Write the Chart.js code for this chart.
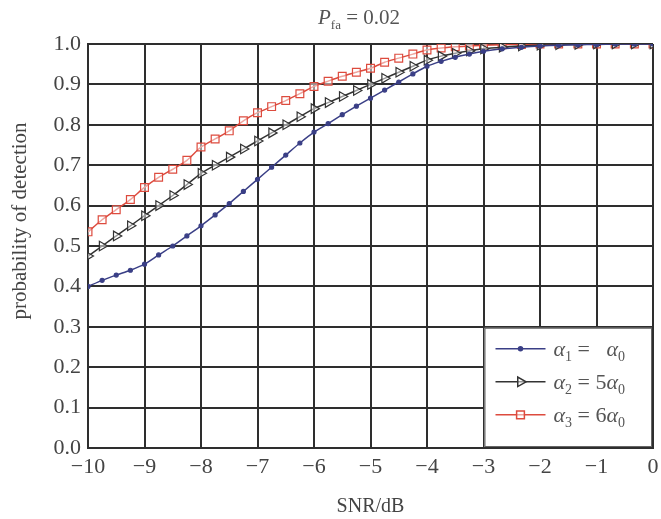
<!DOCTYPE html>
<html>
<head>
<meta charset="utf-8">
<script src="https://cdn.jsdelivr.net/npm/chart.js@4.4.0/dist/chart.umd.min.js"></script>
<style>
  body { margin: 0; background: #fff; }
  canvas { display: block; }
</style>
</head>
<body>
<canvas id="pd" width="661" height="519"></canvas>
<script>
// SNR points (dB)
const snr = [-10, -9.75, -9.5, -9.25, -9, -8.75, -8.5, -8.25, -8, -7.75, -7.5, -7.25, -7,
    -6.75, -6.5, -6.25, -6, -5.75, -5.5, -5.25, -5, -4.75, -4.5, -4.25, -4, -3.75, -3.5, -3.25, -3,
    -2.67, -2.33, -2, -1.67, -1.33, -1, -0.67, -0.33, 0]

// alpha1 = alpha0
const pd1 = [0.400, 0.415, 0.428, 0.440, 0.455, 0.478, 0.500, 0.525, 0.550, 0.577, 0.605, 0.635, 0.665,
    0.695, 0.725, 0.755, 0.782, 0.803, 0.825, 0.846, 0.866, 0.886, 0.906, 0.926, 0.945, 0.957, 0.967, 0.975, 0.982,
    0.988, 0.992, 0.995, 0.997, 0.998, 0.999, 1.0, 1.0, 1.0]
// alpha2 = 5 alpha0
const pd2 = [0.475, 0.500, 0.525, 0.550, 0.575, 0.600, 0.625, 0.652, 0.680, 0.700, 0.720, 0.740, 0.760,
    0.780, 0.800, 0.820, 0.840, 0.855, 0.870, 0.885, 0.900, 0.915, 0.930, 0.945, 0.960, 0.970, 0.977, 0.983, 0.988,
    0.992, 0.995, 0.997, 0.998, 0.999, 1.0, 1.0, 1.0, 1.0]
// alpha3 = 6 alpha0
const pd3 = [0.535, 0.565, 0.590, 0.615, 0.645, 0.670, 0.690, 0.712, 0.745, 0.765, 0.785, 0.810, 0.830,
    0.845, 0.860, 0.877, 0.895, 0.908, 0.920, 0.930, 0.940, 0.955, 0.965, 0.975, 0.985, 0.990, 0.993, 0.995, 0.997,
    0.998, 0.999, 1.0, 1.0, 1.0, 1.0, 1.0, 1.0, 1.0]

const xTicks = [-10, -9, -8, -7, -6, -5, -4, -3, -2, -1, 0]

const SERIF = '"Liberation Serif", "DejaVu Serif", serif'
const GRID = '#2e2e2e'

function pts(ys) {
    return snr.map((x, i) => ({ x: x, y: ys[i] }))
}

let series = [
    { label: 'a1', data: pts(pd1), borderColor: '#3a3f86', pointStyle: 'circle', pointRadius: 2,
      pointBackgroundColor: '#3a3f86', pointRotation: 0,
      legend: [['α', 'it'], ['1', 'sub'], [' =   '], ['α', 'it'], ['0', 'sub']] },
    { label: 'a2', data: pts(pd2), borderColor: '#333333', pointStyle: 'triangle', pointRadius: 5.5,
      pointBackgroundColor: 'rgba(255,255,255,0.5)', pointRotation: 90,
      legend: [['α', 'it'], ['2', 'sub'], [' = 5'], ['α', 'it'], ['0', 'sub']] },
    { label: 'a3', data: pts(pd3), borderColor: '#dd4b3e', pointStyle: 'rect', pointRadius: 5.5,
      pointBackgroundColor: 'rgba(255,255,255,0.5)', pointRotation: 0,
      legend: [['α', 'it'], ['3', 'sub'], [' = 6'], ['α', 'it'], ['0', 'sub']] }
]

// draws pieces of text: normal, italic, subscript
function drawRich(ctx, parts, x, y, size) {
    ctx.textBaseline = 'alphabetic'
    ctx.textAlign = 'left'
    parts.forEach(p => {
        let kind = p[1]
        if (kind === 'sub') {
            ctx.font = Math.round(size * 0.62) + 'px ' + SERIF
            ctx.fillText(p[0], x, y + size * 0.22)
        } else {
            ctx.font = (kind === 'it' ? 'italic ' : '') + size + 'px ' + SERIF
            ctx.fillText(p[0], x, y)
        }
        x += ctx.measureText(p[0]).width
    })
    return x
}

const extras = {
    id: 'extras',
    afterDatasetsDraw(chart) {
        const ctx = chart.ctx
        const xs = chart.scales.x, ys = chart.scales.y
        // title
        ctx.save()
        ctx.fillStyle = '#555'
        drawRich(ctx, [['P', 'it'], ['fa', 'sub'], [' = 0.02']], 318, 24, 21)
        ctx.restore()

        // y axis title (sits a bit above the plot centre in the original)
        ctx.save()
        ctx.translate(20, 221)
        ctx.rotate(-Math.PI / 2)
        ctx.fillStyle = '#444'
        ctx.font = '21px ' + SERIF
        ctx.textAlign = 'center'
        ctx.textBaseline = 'middle'
        ctx.fillText('probability of detection', 0, 0)
        ctx.restore()

        // legend box in lower right
        let l = xs.getPixelForValue(-3), r = xs.getPixelForValue(0)
        let t = ys.getPixelForValue(0.3), b = ys.getPixelForValue(0)
        ctx.save()
        ctx.fillStyle = '#fff'
        ctx.fillRect(l + 1, t + 1, r - l - 2, b - t - 2)
        ctx.strokeStyle = '#666'
        ctx.lineWidth = 1
        ctx.strokeRect(l + 1.5, t + 1.5, r - l - 3, b - t - 3)
        chart.data.datasets.forEach((ds, i) => {
            let yy = t + 22 + i * 33
            ctx.strokeStyle = ds.borderColor
            ctx.lineWidth = 1.5
            ctx.beginPath()
            ctx.moveTo(l + 12, yy)
            ctx.lineTo(l + 62, yy)
            ctx.stroke()
            ctx.fillStyle = ds.pointBackgroundColor
            Chart.helpers.drawPoint(ctx, {
                pointStyle: ds.pointStyle, rotation: ds.pointRotation,
                radius: ds.pointStyle === 'circle' ? 2 : 5.5, borderWidth: 1.5
            }, l + 37, yy)
            ctx.fillStyle = '#555'
            drawRich(ctx, series[i].legend, l + 70, yy + 7, 22)
        })
        ctx.restore()
    }
}

new Chart(document.getElementById('pd'), {
    type: 'line',
    data: {
        datasets: series.map(s => ({
            label: s.label,
            data: s.data,
            borderColor: s.borderColor,
            borderWidth: 1.5,
            pointStyle: s.pointStyle,
            pointRadius: s.pointRadius,
            pointRotation: s.pointRotation,
            pointBorderColor: s.borderColor,
            pointBackgroundColor: s.pointBackgroundColor,
            pointBorderWidth: 1.2,
            tension: 0.2,
            fill: false
        }))
    },
    options: {
        responsive: false,
        animation: false,
        layout: { padding: { left: 0, right: 8, top: 44, bottom: 0 } },
        plugins: { legend: { display: false }, tooltip: { enabled: false }, title: { display: false } },
        scales: {
            x: {
                type: 'linear', min: -10, max: 0,
                afterBuildTicks: sc => { sc.ticks = xTicks.map(v => ({ value: v })) },
                afterFit: sc => { sc.height = 71; sc.paddingRight = 0; sc.paddingLeft = 0 },
                grid: { color: GRID, lineWidth: 2, drawTicks: false },
                border: { color: GRID, width: 2 },
                ticks: {
                    padding: 6, color: '#444', font: { family: SERIF, size: 22 },
                    callback: v => v < 0 ? '\u2212' + Math.abs(v) : '' + v
                },
                title: { display: true, text: 'SNR/dB', color: '#444', padding: { top: 4, bottom: 0 },
                    font: { family: SERIF, size: 20 } }
            },
            y: {
                min: 0, max: 1,
                afterFit: sc => { sc.width = 88 },
                grid: { color: GRID, lineWidth: 2, drawTicks: false },
                border: { color: GRID, width: 2 },
                ticks: {
                    stepSize: 0.1, padding: 7, color: '#444', font: { family: SERIF, size: 22 },
                    callback: v => v.toFixed(1)
                },
                title: { display: false }
            }
        }
    },
    plugins: [extras]
})
</script>
</body>
</html>
